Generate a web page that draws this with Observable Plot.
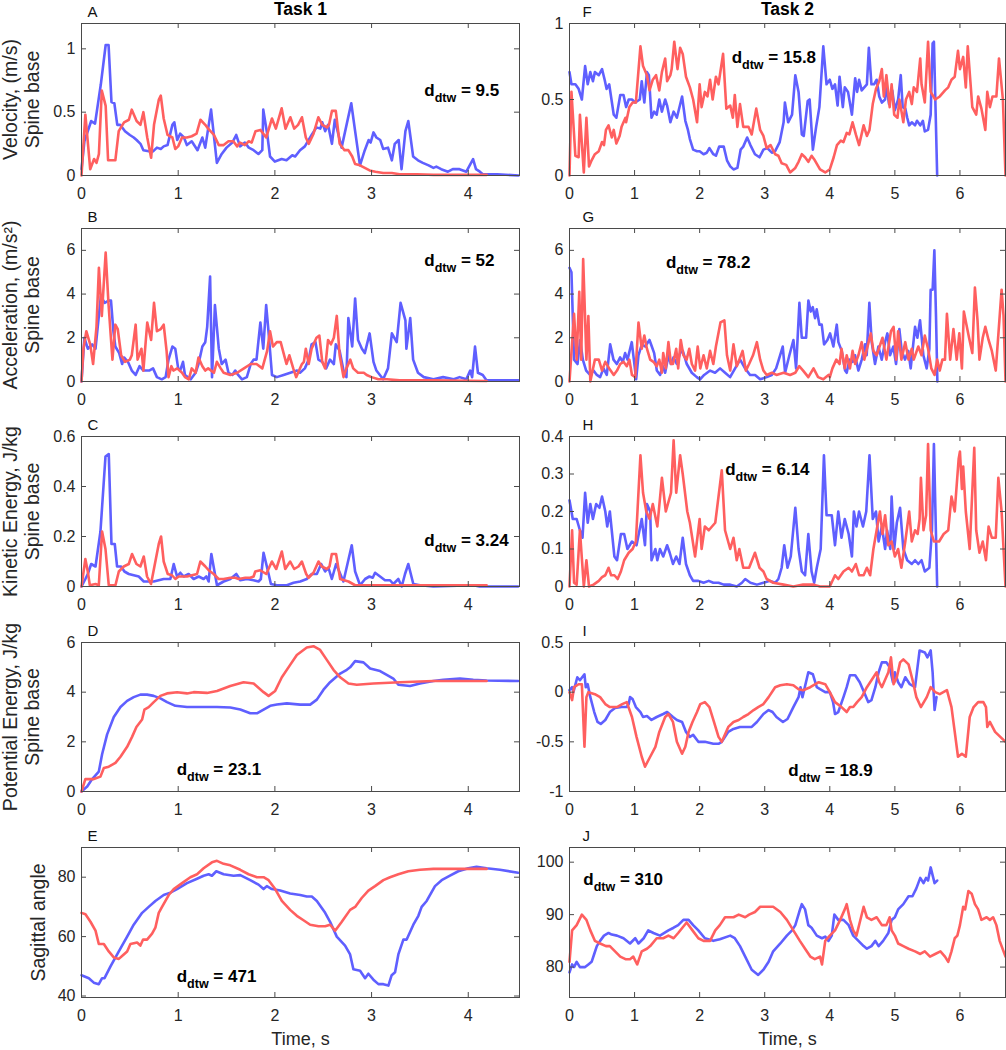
<!DOCTYPE html>
<html><head><meta charset="utf-8">
<script src="https://cdn.jsdelivr.net/npm/d3@7"></script>
<script src="https://cdn.jsdelivr.net/npm/@observablehq/plot@0.6"></script>
<style>
html,body{margin:0;padding:0;background:#fff;}
#wrap{position:relative;width:1006px;height:1050px;overflow:hidden;}
.cell{position:absolute;}
</style></head><body><div id="wrap"></div>
<script>
// ---------- tick labels ----------
const xTicksTask1 = [0, 1, 2, 3, 4];
const xTicksTask2 = [0, 1, 2, 3, 4, 5, 6];
const yTicksVel = [0, 0.5, 1];
const yTicksAcc = [0, 2, 4, 6];
const yTicksKE1 = [0, 0.2, 0.4, 0.6];
const yTicksKE2 = [0, 0.1, 0.2, 0.3, 0.4];
const yTicksPE1 = [0, 2, 4, 6];
const yTicksPE2 = [-1, -0.5, 0, 0.5];
const yTicksAng1 = [40, 60, 80];
const yTicksAng2 = [80, 90, 100];
const panelLetters = ["A", "B", "C", "D", "E", "F", "G", "H", "I", "J"];
const taskTitles = ["Task 1", "Task 2"];
const rowLabels = ["Velocity, (m/s)\nSpine base", "Acceleration, (m/s²)\nSpine base", "Kinetic Energy, J/kg\nSpine base", "Potential Energy, J/kg\nSpine base", "Sagittal angle"];
const xLabel = "Time, s";
const dtwValues = ["9.5", "52", "3.24", "23.1", "471", "15.8", "78.2", "6.14", "18.9", "310"];

// ---------- series: [time s, value] ----------
const velBlue1 = [[0,0.05],[0.03,0.27],[0.1,0.43],[0.14,0.41],[0.2,0.72],[0.25,1.03],[0.28,1.03],[0.31,0.58],[0.34,0.57],[0.37,0.4],[0.4,0.4],[0.45,0.35],[0.5,0.32],[0.54,0.3],[0.57,0.28],[0.61,0.25],[0.64,0.2],[0.71,0.19],[0.74,0.19],[0.78,0.22],[0.82,0.21],[0.85,0.23],[0.89,0.24],[0.94,0.4],[0.96,0.42],[0.99,0.28],[1.02,0.33],[1.06,0.3],[1.09,0.24],[1.14,0.27],[1.2,0.2],[1.25,0.3],[1.28,0.22],[1.34,0.52],[1.4,0.1],[1.45,0.17],[1.5,0.22],[1.56,0.26],[1.6,0.32],[1.64,0.23],[1.69,0.26],[1.73,0.22],[1.78,0.2],[1.83,0.17],[1.87,0.2],[1.88,0.52],[1.92,0.33],[1.95,0.15],[2.0,0.11],[2.07,0.13],[2.12,0.12],[2.18,0.16],[2.21,0.15],[2.26,0.2],[2.31,0.23],[2.38,0.32],[2.43,0.38],[2.47,0.37],[2.49,0.42],[2.52,0.35],[2.55,0.4],[2.59,0.25],[2.62,0.44],[2.69,0.22],[2.79,0.57],[2.83,0.35],[2.88,0.08],[2.93,0.2],[2.97,0.28],[2.99,0.26],[3.02,0.34],[3.05,0.3],[3.09,0.28],[3.12,0.21],[3.17,0.22],[3.21,0.12],[3.24,0.25],[3.28,0.28],[3.31,0.05],[3.35,0.35],[3.38,0.43],[3.43,0.15],[3.48,0.12],[3.53,0.1],[3.59,0.08],[3.64,0.06],[3.67,0.07],[3.72,0.05],[3.79,0.03],[3.84,0.05],[3.91,0.05],[3.98,0.03],[4.05,0.13],[4.08,0.05],[4.12,0.03],[4.15,0.01],[4.3,0.01],[4.52,0.0]];
const velRed1 = [[0,0],[0.04,0.48],[0.09,0.05],[0.13,0.13],[0.155,0.1],[0.18,0.17],[0.21,0.67],[0.25,0.55],[0.275,0.12],[0.35,0.12],[0.385,0.35],[0.44,0.42],[0.49,0.44],[0.52,0.52],[0.57,0.43],[0.61,0.4],[0.64,0.5],[0.68,0.3],[0.72,0.14],[0.75,0.4],[0.8,0.6],[0.82,0.63],[0.85,0.45],[0.89,0.32],[0.94,0.3],[0.97,0.21],[1.0,0.23],[1.04,0.3],[1.09,0.3],[1.14,0.31],[1.19,0.33],[1.23,0.44],[1.28,0.4],[1.31,0.37],[1.37,0.32],[1.42,0.24],[1.47,0.24],[1.52,0.27],[1.57,0.27],[1.61,0.23],[1.64,0.26],[1.69,0.24],[1.73,0.27],[1.76,0.26],[1.8,0.35],[1.85,0.36],[1.91,0.3],[1.97,0.45],[2.01,0.37],[2.07,0.53],[2.11,0.37],[2.16,0.46],[2.2,0.37],[2.24,0.4],[2.28,0.46],[2.32,0.3],[2.35,0.25],[2.4,0.33],[2.45,0.46],[2.49,0.4],[2.54,0.38],[2.56,0.4],[2.59,0.51],[2.63,0.51],[2.67,0.25],[2.72,0.2],[2.76,0.2],[2.8,0.15],[2.83,0.09],[2.88,0.08],[2.93,0.06],[2.98,0.04],[3.04,0.03],[3.12,0.02],[3.21,0.02],[3.29,0.01],[3.47,0.01],[3.64,0.005],[4.19,0.005]];
const velBlue2 = [[0,0.68],[0.03,0.6],[0.09,0.6],[0.14,0.57],[0.19,0.5],[0.24,0.72],[0.28,0.6],[0.32,0.68],[0.36,0.62],[0.39,0.68],[0.45,0.66],[0.5,0.7],[0.54,0.63],[0.57,0.57],[0.61,0.6],[0.68,0.4],[0.72,0.38],[0.78,0.53],[0.83,0.53],[0.87,0.45],[0.91,0.5],[0.96,0.5],[1.01,0.48],[1.08,0.5],[1.11,0.62],[1.15,0.48],[1.19,0.68],[1.22,0.66],[1.26,0.38],[1.3,0.42],[1.34,0.4],[1.38,0.5],[1.42,0.42],[1.47,0.5],[1.5,0.46],[1.55,0.35],[1.6,0.42],[1.65,0.38],[1.73,0.52],[1.78,0.36],[1.82,0.3],[1.85,0.24],[1.9,0.17],[1.96,0.16],[2.0,0.16],[2.06,0.14],[2.11,0.15],[2.15,0.18],[2.21,0.14],[2.25,0.13],[2.3,0.19],[2.37,0.19],[2.42,0.1],[2.47,0.06],[2.52,0.04],[2.58,0.05],[2.63,0.17],[2.67,0.19],[2.73,0.25],[2.78,0.2],[2.85,0.14],[2.92,0.12],[2.98,0.17],[3.04,0.18],[3.11,0.15],[3.16,0.16],[3.23,0.22],[3.29,0.35],[3.31,0.48],[3.36,0.35],[3.42,0.4],[3.47,0.66],[3.52,0.55],[3.57,0.27],[3.6,0.26],[3.66,0.49],[3.69,0.5],[3.74,0.17],[3.79,0.32],[3.84,0.45],[3.9,0.85],[3.95,0.6],[4.0,0.63],[4.04,0.57],[4.08,0.6],[4.12,0.46],[4.15,0.65],[4.2,0.45],[4.23,0.58],[4.28,0.55],[4.34,0.4],[4.39,0.64],[4.42,0.55],[4.45,0.63],[4.49,0.56],[4.53,0.58],[4.57,0.6],[4.6,0.84],[4.64,0.6],[4.68,0.6],[4.72,0.63],[4.76,0.52],[4.8,0.48],[4.85,0.5],[4.87,0.6],[4.91,0.47],[4.96,0.56],[5.0,0.43],[5.05,0.5],[5.09,0.66],[5.12,0.45],[5.16,0.44],[5.19,0.38],[5.22,0.33],[5.26,0.35],[5.31,0.33],[5.34,0.36],[5.39,0.33],[5.43,0.36],[5.46,0.29],[5.51,0.3],[5.55,0.4],[5.58,0.87],[5.6,0.88],[5.65,0.0]];
const velRed2 = [[0,0],[0.03,0.55],[0.09,0.13],[0.14,0.12],[0.16,0.4],[0.22,0.02],[0.26,0.38],[0.3,0.06],[0.34,0.1],[0.39,0.14],[0.45,0.16],[0.5,0.22],[0.53,0.2],[0.56,0.3],[0.6,0.33],[0.65,0.25],[0.68,0.3],[0.72,0.21],[0.77,0.26],[0.8,0.32],[0.86,0.38],[0.87,0.35],[0.92,0.45],[0.97,0.48],[1.02,0.48],[1.09,0.85],[1.13,0.72],[1.19,0.66],[1.23,0.56],[1.28,0.63],[1.33,0.66],[1.38,0.56],[1.42,0.68],[1.47,0.77],[1.5,0.62],[1.55,0.66],[1.57,0.7],[1.61,0.88],[1.66,0.7],[1.7,0.84],[1.74,0.8],[1.79,0.65],[1.85,0.58],[1.9,0.5],[1.96,0.35],[2.0,0.6],[2.03,0.45],[2.08,0.55],[2.12,0.52],[2.16,0.63],[2.2,0.5],[2.25,0.65],[2.29,0.6],[2.36,0.8],[2.41,0.44],[2.47,0.46],[2.51,0.38],[2.54,0.53],[2.58,0.32],[2.62,0.47],[2.67,0.32],[2.75,0.32],[2.8,0.27],[2.87,0.44],[2.93,0.3],[2.98,0.26],[3.03,0.18],[3.09,0.2],[3.16,0.14],[3.21,0.13],[3.26,0.08],[3.33,0.07],[3.39,0.02],[3.47,0.05],[3.52,0.09],[3.57,0.14],[3.62,0.12],[3.67,0.09],[3.72,0.13],[3.77,0.1],[3.85,0.04],[3.93,0.02],[4.0,0.04],[4.06,0.12],[4.11,0.2],[4.17,0.23],[4.21,0.22],[4.26,0.28],[4.3,0.27],[4.35,0.35],[4.4,0.27],[4.45,0.2],[4.52,0.33],[4.57,0.26],[4.61,0.3],[4.66,0.47],[4.71,0.57],[4.76,0.62],[4.8,0.7],[4.83,0.52],[4.87,0.66],[4.92,0.45],[4.95,0.6],[4.99,0.4],[5.04,0.38],[5.07,0.5],[5.13,0.35],[5.17,0.5],[5.22,0.55],[5.26,0.47],[5.29,0.58],[5.34,0.55],[5.39,0.77],[5.41,0.6],[5.46,0.48],[5.51,0.88],[5.55,0.55],[5.62,0.5],[5.69,0.52],[5.77,0.56],[5.82,0.58],[5.87,0.63],[5.92,0.65],[5.97,0.82],[6.0,0.7],[6.05,0.78],[6.09,0.58],[6.12,0.85],[6.19,0.45],[6.25,0.4],[6.28,0.52],[6.33,0.44],[6.39,0.3],[6.42,0.55],[6.46,0.45],[6.5,0.52],[6.56,0.52],[6.6,0.77],[6.66,0.5],[6.7,0.0]];

const accBlue1 = [[0,0],[0.03,2.0],[0.065,1.5],[0.11,1.7],[0.145,1.5],[0.2,3.9],[0.24,3.6],[0.28,3.7],[0.305,3.7],[0.33,2.3],[0.35,1.6],[0.39,1.3],[0.42,0.8],[0.44,1.1],[0.48,0.9],[0.52,0.5],[0.56,0.3],[0.6,0.7],[0.64,0.5],[0.7,0.5],[0.74,0.6],[0.78,0.2],[0.83,0.1],[0.87,0.2],[0.9,1.0],[0.94,1.6],[0.97,1.5],[1.0,0.6],[1.02,0.5],[1.05,0.9],[1.07,0.3],[1.13,0.1],[1.18,0.4],[1.21,0.8],[1.25,1.6],[1.28,1.8],[1.3,2.5],[1.33,4.8],[1.35,0.2],[1.38,3.5],[1.42,1.5],[1.45,0.8],[1.49,1.0],[1.52,0.4],[1.56,0.3],[1.59,0.5],[1.62,0.3],[1.66,0.1],[1.71,0.2],[1.75,0.8],[1.78,1.0],[1.81,1.0],[1.85,2.7],[1.88,1.5],[1.91,3.5],[1.93,2.5],[1.97,0.3],[2.02,0.2],[2.09,0.3],[2.16,0.4],[2.23,0.5],[2.26,0.4],[2.31,0.6],[2.35,1.0],[2.38,1.7],[2.42,1.8],[2.45,1.0],[2.49,0.9],[2.53,0.6],[2.57,1.0],[2.61,0.8],[2.63,1.7],[2.67,1.4],[2.71,0.5],[2.74,0.2],[2.76,2.9],[2.8,1.6],[2.83,3.8],[2.86,1.9],[2.9,1.5],[2.93,1.3],[2.98,2.2],[3.02,0.9],[3.05,0.5],[3.12,0.1],[3.17,0.6],[3.21,2.2],[3.26,1.8],[3.3,3.6],[3.35,2.8],[3.36,1.5],[3.4,2.9],[3.43,1.0],[3.48,0.4],[3.54,0.2],[3.64,0.1],[3.74,0.2],[3.85,0.1],[3.91,0.2],[3.98,0.1],[4.02,0.5],[4.04,0.2],[4.07,1.6],[4.1,0.4],[4.15,0.3],[4.19,0.05],[4.52,0.05]];
const accRed1 = [[0,0],[0.02,1.5],[0.05,2.3],[0.09,1.7],[0.12,0.8],[0.155,2.5],[0.18,5.2],[0.21,3.0],[0.25,5.9],[0.28,3.5],[0.32,1.0],[0.35,2.6],[0.375,2.4],[0.41,1.2],[0.45,0.9],[0.5,1.0],[0.52,1.2],[0.56,2.6],[0.58,1.0],[0.62,1.5],[0.64,0.5],[0.68,2.7],[0.72,1.9],[0.75,3.6],[0.78,2.3],[0.82,2.4],[0.85,2.6],[0.88,1.4],[0.9,0.2],[0.93,0.7],[0.95,0.5],[0.99,0.6],[1.04,0.4],[1.07,0.2],[1.11,0.1],[1.14,0.6],[1.18,0.4],[1.21,1.1],[1.25,0.7],[1.28,0.5],[1.31,0.6],[1.37,0.4],[1.4,0.9],[1.44,0.6],[1.47,0.4],[1.54,0.3],[1.61,0.4],[1.68,0.6],[1.75,0.8],[1.81,0.8],[1.87,0.6],[1.92,1.4],[1.95,2.3],[1.98,1.6],[2.02,1.8],[2.06,1.8],[2.09,1.3],[2.12,0.8],[2.15,1.2],[2.19,0.6],[2.22,0.2],[2.25,0.5],[2.28,0.8],[2.3,0.9],[2.32,1.5],[2.35,0.8],[2.38,1.5],[2.43,2.0],[2.46,2.1],[2.49,0.9],[2.52,0.6],[2.55,1.9],[2.58,1.7],[2.61,2.0],[2.64,3.0],[2.67,1.2],[2.71,0.2],[2.74,0.6],[2.78,1.0],[2.81,0.6],[2.86,0.4],[2.92,0.4],[2.95,0.3],[3.0,0.2],[3.07,0.1],[3.16,0.1],[3.29,0.05],[3.64,0.05],[4.19,0.02]];
const accBlue2 = [[0,5.2],[0.03,5.0],[0.07,1.0],[0.123,0.8],[0.164,1.9],[0.205,1.0],[0.256,0.5],[0.317,0.3],[0.369,0.5],[0.42,0.3],[0.471,0.2],[0.522,0.6],[0.573,0.3],[0.625,1.7],[0.676,1.0],[0.727,0.8],[0.778,1.1],[0.819,0.9],[0.855,1.3],[0.891,1.0],[0.957,1.8],[0.993,0.9],[1.024,0.1],[1.06,1.2],[1.111,1.7],[1.162,1.6],[1.229,1.9],[1.265,1.6],[1.301,1.3],[1.342,0.5],[1.393,0.3],[1.434,0.7],[1.47,0.4],[1.521,1.2],[1.557,0.8],[1.598,1.1],[1.649,0.8],[1.7,1.3],[1.741,1.4],[1.802,0.8],[1.879,0.4],[1.956,0.2],[2.007,0.1],[2.069,0.3],[2.161,0.5],[2.237,0.4],[2.314,0.6],[2.391,0.4],[2.468,0.2],[2.545,0.6],[2.622,1.0],[2.698,0.6],[2.775,0.3],[2.852,0.3],[2.929,0.1],[3.031,0.2],[3.108,0.3],[3.175,0.6],[3.236,1.2],[3.277,1.6],[3.313,0.4],[3.379,1.2],[3.441,1.9],[3.482,0.6],[3.533,3.6],[3.569,2.0],[3.636,2.0],[3.671,3.7],[3.707,3.2],[3.738,3.4],[3.774,2.9],[3.799,3.3],[3.84,2.6],[3.876,2.6],[3.912,1.7],[3.963,1.9],[4.004,2.2],[4.055,1.6],[4.107,2.6],[4.132,1.8],[4.183,1.4],[4.235,0.5],[4.26,0.4],[4.301,1.0],[4.352,0.9],[4.388,1.2],[4.439,0.5],[4.491,1.0],[4.542,1.7],[4.567,1.2],[4.608,3.6],[4.644,1.8],[4.695,0.8],[4.747,1.6],[4.798,1.0],[4.849,1.8],[4.885,2.2],[4.926,1.2],[4.977,1.6],[5.018,0.8],[5.069,2.4],[5.105,1.4],[5.156,1.0],[5.207,1.4],[5.243,0.6],[5.31,2.5],[5.346,2.0],[5.387,2.8],[5.438,1.2],[5.489,0.6],[5.53,1.5],[5.55,4.2],[5.58,4.2],[5.607,6.0],[5.632,3.0],[5.653,0]];
const accRed2 = [[0,0],[0.07,3.1],[0.11,1.0],[0.15,4.1],[0.18,1.0],[0.21,5.6],[0.26,1.0],[0.29,3.0],[0.32,0.0],[0.39,1.0],[0.45,1.0],[0.5,0.5],[0.55,0.9],[0.61,0.6],[0.68,0.3],[0.73,0.5],[0.78,0.8],[0.83,0.9],[0.88,0.7],[0.92,1.0],[0.96,0.3],[1.01,0.2],[1.03,1.2],[1.06,2.7],[1.11,1.5],[1.15,2.1],[1.19,1.5],[1.24,1.0],[1.29,0.9],[1.34,0.7],[1.38,1.0],[1.42,0.4],[1.44,1.3],[1.48,0.6],[1.52,1.8],[1.56,0.8],[1.59,0.8],[1.64,1.5],[1.67,0.6],[1.71,1.9],[1.75,1.2],[1.8,1.0],[1.84,1.5],[1.88,0.8],[1.93,0.5],[1.97,1.6],[2.01,0.6],[2.06,1.2],[2.11,0.6],[2.16,1.4],[2.21,0.8],[2.25,1.6],[2.32,2.7],[2.38,2.8],[2.42,1.2],[2.47,0.5],[2.52,1.7],[2.57,0.7],[2.61,1.0],[2.66,1.4],[2.71,0.5],[2.76,0.8],[2.82,1.2],[2.88,1.8],[2.93,1.0],[2.98,0.5],[3.03,0.3],[3.11,0.4],[3.18,0.3],[3.29,0.4],[3.39,0.3],[3.47,0.4],[3.53,0.7],[3.59,0.5],[3.67,0.2],[3.75,0.6],[3.82,0.2],[3.9,0.1],[3.98,0.3],[4.0,0.2],[4.04,0.6],[4.1,1.0],[4.15,0.8],[4.18,1.5],[4.23,0.6],[4.26,1.2],[4.31,0.6],[4.35,1.4],[4.39,0.8],[4.44,1.2],[4.49,1.8],[4.53,1.0],[4.63,2.2],[4.67,1.4],[4.72,1.2],[4.81,2.0],[4.87,1.0],[4.94,2.3],[4.98,2.5],[5.02,1.0],[5.05,2.3],[5.1,1.0],[5.16,1.8],[5.21,1.0],[5.26,1.5],[5.29,1.0],[5.36,1.6],[5.41,1.2],[5.46,2.1],[5.51,1.5],[5.56,0.6],[5.61,0.3],[5.65,1.0],[5.69,0.5],[5.73,1.0],[5.77,1.0],[5.8,3.1],[5.85,1.0],[5.9,2.4],[5.95,1.0],[5.99,2.2],[6.03,0.6],[6.06,3.2],[6.1,2.6],[6.14,2.0],[6.19,1.3],[6.23,4.3],[6.27,2.8],[6.3,1.0],[6.35,2.0],[6.39,2.5],[6.44,1.9],[6.49,1.4],[6.55,0.5],[6.64,4.2],[6.67,3.0],[6.7,0.0]];

const keBlue1 = [[0,0],[0.04,0.03],[0.065,0.05],[0.1,0.09],[0.145,0.08],[0.196,0.22],[0.248,0.52],[0.282,0.53],[0.31,0.17],[0.344,0.17],[0.368,0.08],[0.41,0.08],[0.444,0.06],[0.489,0.05],[0.54,0.045],[0.592,0.04],[0.644,0.02],[0.747,0.02],[0.85,0.03],[0.919,0.03],[0.954,0.09],[0.988,0.04],[1.022,0.055],[1.057,0.04],[1.108,0.05],[1.16,0.03],[1.212,0.04],[1.263,0.03],[1.291,0.04],[1.315,0.02],[1.343,0.13],[1.401,0.005],[1.47,0.02],[1.539,0.03],[1.601,0.05],[1.642,0.025],[1.711,0.03],[1.78,0.025],[1.831,0.02],[1.855,0.03],[1.883,0.135],[1.917,0.08],[1.959,0.01],[2.021,0.005],[2.124,0.005],[2.193,0.015],[2.262,0.02],[2.33,0.03],[2.382,0.05],[2.434,0.05],[2.479,0.09],[2.52,0.06],[2.554,0.075],[2.589,0.03],[2.633,0.09],[2.709,0.02],[2.795,0.165],[2.83,0.06],[2.881,0.005],[2.933,0.03],[2.978,0.04],[3.012,0.035],[3.036,0.055],[3.088,0.04],[3.139,0.025],[3.191,0.025],[3.225,0.01],[3.277,0.03],[3.312,0.0],[3.346,0.05],[3.38,0.09],[3.432,0.01],[3.501,0.005],[3.639,0],[4.052,0.005],[4.117,0],[4.516,0]];
const keRed1 = [[0,0],[0.04,0.11],[0.065,0.06],[0.086,0.005],[0.145,0.01],[0.179,0.005],[0.213,0.22],[0.248,0.15],[0.282,0.005],[0.351,0.005],[0.386,0.06],[0.437,0.08],[0.489,0.09],[0.523,0.13],[0.568,0.09],[0.609,0.08],[0.644,0.12],[0.678,0.04],[0.719,0.01],[0.754,0.08],[0.799,0.17],[0.823,0.2],[0.85,0.1],[0.892,0.05],[0.936,0.045],[0.971,0.03],[1.005,0.04],[1.04,0.04],[1.091,0.04],[1.143,0.045],[1.195,0.05],[1.229,0.1],[1.281,0.08],[1.315,0.065],[1.367,0.05],[1.418,0.03],[1.47,0.03],[1.539,0.035],[1.59,0.035],[1.625,0.03],[1.694,0.035],[1.745,0.035],[1.78,0.04],[1.797,0.06],[1.849,0.065],[1.911,0.05],[1.969,0.1],[2.014,0.07],[2.072,0.14],[2.107,0.07],[2.158,0.1],[2.2,0.07],[2.244,0.08],[2.279,0.1],[2.324,0.05],[2.348,0.035],[2.399,0.055],[2.451,0.1],[2.485,0.08],[2.537,0.07],[2.565,0.08],[2.589,0.13],[2.633,0.13],[2.675,0.03],[2.761,0.02],[2.83,0.005],[4.19,0.005]];
const keBlue2 = [[0,0.23],[0.05,0.18],[0.11,0.18],[0.16,0.15],[0.2,0.13],[0.24,0.25],[0.28,0.17],[0.32,0.22],[0.36,0.18],[0.41,0.22],[0.46,0.21],[0.5,0.24],[0.55,0.2],[0.58,0.16],[0.62,0.2],[0.69,0.08],[0.73,0.07],[0.79,0.14],[0.84,0.14],[0.89,0.1],[0.96,0.12],[1.03,0.11],[1.11,0.18],[1.16,0.11],[1.19,0.22],[1.24,0.2],[1.26,0.07],[1.32,0.1],[1.35,0.07],[1.39,0.1],[1.44,0.08],[1.5,0.11],[1.54,0.09],[1.59,0.06],[1.64,0.08],[1.69,0.06],[1.74,0.13],[1.79,0.06],[1.85,0.03],[1.9,0.015],[1.98,0.015],[2.06,0.01],[2.14,0.015],[2.21,0.01],[2.29,0.01],[2.37,0.005],[2.47,0.005],[2.57,0],[2.65,0.01],[2.7,0.02],[2.78,0.01],[2.88,0.005],[2.98,0.01],[3.08,0.015],[3.16,0.01],[3.21,0.02],[3.26,0.05],[3.3,0.11],[3.35,0.05],[3.4,0.08],[3.47,0.21],[3.52,0.1],[3.57,0.04],[3.62,0.03],[3.67,0.14],[3.72,0.04],[3.76,0.01],[3.8,0.05],[3.86,0.1],[3.91,0.35],[3.95,0.19],[4.03,0.19],[4.08,0.11],[4.13,0.2],[4.18,0.13],[4.23,0.18],[4.29,0.14],[4.34,0.08],[4.37,0.2],[4.41,0.16],[4.45,0.2],[4.51,0.16],[4.56,0.2],[4.61,0.35],[4.66,0.18],[4.71,0.2],[4.75,0.12],[4.8,0.16],[4.85,0.1],[4.88,0.15],[4.93,0.1],[4.95,0.24],[4.99,0.1],[5.03,0.17],[5.08,0.21],[5.13,0.1],[5.19,0.07],[5.26,0.06],[5.31,0.07],[5.36,0.06],[5.41,0.07],[5.46,0.04],[5.53,0.05],[5.57,0.15],[5.6,0.38],[5.63,0.15],[5.65,0]];
const keRed2 = [[0,0],[0.04,0.15],[0.07,0.01],[0.11,0.005],[0.16,0.15],[0.22,0],[0.26,0.07],[0.3,0],[0.37,0.005],[0.45,0.015],[0.5,0.025],[0.55,0.03],[0.6,0.05],[0.64,0.03],[0.69,0.03],[0.74,0.02],[0.79,0.04],[0.84,0.07],[0.91,0.09],[0.97,0.1],[1.02,0.12],[1.09,0.35],[1.13,0.25],[1.18,0.2],[1.23,0.18],[1.28,0.22],[1.35,0.16],[1.42,0.29],[1.48,0.2],[1.56,0.25],[1.6,0.39],[1.64,0.25],[1.7,0.35],[1.74,0.3],[1.81,0.2],[1.85,0.17],[1.93,0.08],[2.0,0.18],[2.03,0.1],[2.08,0.16],[2.14,0.15],[2.24,0.17],[2.34,0.31],[2.39,0.15],[2.47,0.1],[2.52,0.13],[2.57,0.07],[2.61,0.1],[2.67,0.05],[2.76,0.05],[2.85,0.09],[2.92,0.05],[2.98,0.04],[3.03,0.02],[3.13,0.01],[3.29,0.005],[3.44,0],[3.59,0.005],[3.75,0.005],[3.85,0],[4.0,0],[4.08,0.03],[4.13,0.02],[4.21,0.04],[4.29,0.05],[4.34,0.04],[4.4,0.06],[4.45,0.03],[4.52,0.03],[4.57,0.05],[4.62,0.03],[4.67,0.1],[4.72,0.15],[4.77,0.2],[4.81,0.14],[4.85,0.19],[4.9,0.11],[4.95,0.12],[5.0,0.08],[5.05,0.1],[5.1,0.05],[5.16,0.12],[5.22,0.2],[5.26,0.12],[5.31,0.15],[5.35,0.14],[5.38,0.18],[5.4,0.29],[5.44,0.15],[5.48,0.19],[5.51,0.38],[5.55,0.15],[5.6,0.12],[5.68,0.12],[5.75,0.14],[5.82,0.15],[5.87,0.24],[5.92,0.2],[5.98,0.34],[6.0,0.36],[6.03,0.26],[6.05,0.32],[6.09,0.2],[6.15,0.1],[6.22,0.37],[6.25,0.15],[6.3,0.09],[6.35,0.12],[6.4,0.07],[6.44,0.16],[6.49,0.13],[6.55,0.13],[6.59,0.29],[6.64,0.2],[6.7,0]];

const peBlue1 = [[0,0],[0.059,0.2],[0.11,0.5],[0.179,0.8],[0.213,1.5],[0.265,2.3],[0.334,3.0],[0.403,3.4],[0.472,3.65],[0.54,3.8],[0.609,3.9],[0.678,3.9],[0.747,3.85],[0.816,3.75],[0.885,3.6],[0.971,3.45],[1.091,3.4],[1.229,3.4],[1.401,3.4],[1.539,3.38],[1.642,3.3],[1.745,3.15],[1.814,3.15],[1.883,3.3],[1.952,3.45],[2.021,3.5],[2.124,3.55],[2.262,3.5],[2.365,3.5],[2.434,3.7],[2.503,4.1],[2.571,4.4],[2.675,4.75],[2.744,4.9],[2.778,5.0],[2.83,5.25],[2.916,5.2],[2.985,4.95],[3.088,4.85],[3.157,4.7],[3.225,4.55],[3.277,4.3],[3.398,4.25],[3.501,4.35],[3.639,4.45],[3.742,4.5],[3.914,4.55],[4.052,4.5],[4.19,4.47],[4.516,4.45]];
const peRed1 = [[0,0],[0.04,0.5],[0.127,0.5],[0.196,0.6],[0.231,0.95],[0.282,1.0],[0.351,1.15],[0.403,1.4],[0.472,1.8],[0.523,2.2],[0.568,2.6],[0.627,2.9],[0.651,3.3],[0.695,3.4],[0.747,3.6],[0.816,3.85],[0.885,3.95],[0.988,4.0],[1.091,3.95],[1.16,4.0],[1.298,3.97],[1.401,4.05],[1.539,4.25],[1.676,4.4],[1.78,4.35],[1.883,4.0],[1.935,3.85],[2.003,4.05],[2.072,4.6],[2.158,5.1],[2.227,5.5],[2.33,5.8],[2.399,5.85],[2.468,5.7],[2.537,5.3],[2.606,4.9],[2.675,4.6],[2.761,4.35],[2.847,4.3],[3.019,4.35],[3.294,4.4],[3.639,4.45],[4.19,4.45]];
const peBlue2 = [[0,0.02],[0.04,0.05],[0.06,0.0],[0.12,0.15],[0.16,0.12],[0.23,0.18],[0.25,0.05],[0.28,0.08],[0.32,-0.05],[0.38,-0.2],[0.43,-0.3],[0.48,-0.32],[0.55,-0.28],[0.62,-0.2],[0.7,-0.16],[0.8,-0.15],[0.88,-0.15],[0.91,-0.12],[0.93,-0.05],[0.97,-0.07],[1.02,-0.15],[1.09,-0.2],[1.13,-0.25],[1.19,-0.24],[1.26,-0.28],[1.34,-0.25],[1.44,-0.22],[1.5,-0.2],[1.59,-0.25],[1.65,-0.28],[1.73,-0.3],[1.79,-0.4],[1.85,-0.45],[1.9,-0.43],[1.98,-0.5],[2.08,-0.5],[2.21,-0.52],[2.29,-0.52],[2.34,-0.5],[2.44,-0.4],[2.52,-0.37],[2.62,-0.35],[2.8,-0.35],[2.88,-0.3],[2.98,-0.22],[3.06,-0.18],[3.12,-0.2],[3.18,-0.25],[3.28,-0.3],[3.35,-0.27],[3.44,-0.15],[3.52,-0.05],[3.55,0.05],[3.58,-0.05],[3.67,0.2],[3.74,0.18],[3.8,0.05],[3.85,0.03],[3.93,0.0],[4.0,0.0],[4.05,-0.1],[4.08,-0.22],[4.13,-0.2],[4.21,-0.05],[4.26,0.05],[4.31,0.17],[4.39,0.17],[4.46,0.1],[4.54,-0.02],[4.59,-0.1],[4.64,-0.08],[4.7,0.05],[4.75,0.2],[4.8,0.3],[4.87,0.3],[4.92,0.25],[4.97,0.1],[5.0,0.2],[5.05,0.1],[5.1,0.05],[5.16,0.15],[5.23,0.08],[5.31,0.05],[5.38,0.42],[5.46,0.4],[5.5,0.35],[5.55,0.42],[5.58,0.2],[5.61,-0.18],[5.64,-0.05]];
const peRed2 = [[0,0],[0.04,-0.08],[0.07,0.05],[0.14,0.08],[0.19,0.08],[0.23,-0.55],[0.26,-0.05],[0.29,0.0],[0.39,-0.02],[0.47,-0.05],[0.55,-0.12],[0.62,-0.15],[0.73,-0.15],[0.81,-0.12],[0.88,-0.1],[0.96,-0.25],[1.03,-0.45],[1.11,-0.65],[1.16,-0.75],[1.24,-0.65],[1.32,-0.55],[1.38,-0.4],[1.47,-0.25],[1.52,-0.22],[1.59,-0.3],[1.65,-0.5],[1.73,-0.62],[1.78,-0.55],[1.83,-0.4],[1.89,-0.3],[1.96,-0.2],[2.01,-0.12],[2.08,-0.1],[2.15,-0.15],[2.22,-0.3],[2.29,-0.45],[2.34,-0.5],[2.44,-0.35],[2.52,-0.3],[2.6,-0.28],[2.67,-0.25],[2.75,-0.22],[2.83,-0.18],[2.9,-0.15],[2.98,-0.12],[3.06,-0.05],[3.16,0.05],[3.24,0.07],[3.34,0.08],[3.44,0.07],[3.52,0.03],[3.59,0.02],[3.7,0.05],[3.83,0.1],[3.93,0.08],[4.0,0.0],[4.08,-0.1],[4.18,-0.15],[4.26,-0.2],[4.31,-0.15],[4.36,-0.15],[4.42,-0.1],[4.49,-0.05],[4.57,0.05],[4.64,0.12],[4.72,0.2],[4.76,0.1],[4.8,0.05],[4.9,0.2],[4.94,0.35],[4.98,0.08],[5.03,0.15],[5.08,0.3],[5.13,0.33],[5.21,0.28],[5.28,0.1],[5.33,-0.05],[5.4,-0.15],[5.49,-0.05],[5.55,0.05],[5.62,0.0],[5.69,-0.02],[5.8,0.02],[5.87,-0.15],[5.92,-0.4],[5.97,-0.65],[6.03,-0.62],[6.09,-0.65],[6.15,-0.25],[6.21,-0.15],[6.28,-0.1],[6.36,-0.1],[6.4,-0.15],[6.42,-0.35],[6.46,-0.3],[6.54,-0.4],[6.62,-0.45],[6.7,-0.5]];

const angBlue1 = [[0,47],[0.076,46],[0.127,44.5],[0.179,44],[0.213,46],[0.238,46],[0.3,50],[0.386,55],[0.472,60],[0.54,64],[0.627,68],[0.695,70],[0.764,72],[0.85,74],[0.919,74.8],[0.988,76],[1.091,78],[1.195,79.5],[1.263,80.5],[1.315,81],[1.349,80.5],[1.394,82],[1.47,81],[1.573,80.5],[1.642,80.7],[1.745,79],[1.831,77.5],[1.883,76],[1.917,77],[1.969,76],[2.055,75.5],[2.158,74.5],[2.262,74],[2.33,73.5],[2.382,73.5],[2.434,72],[2.52,68],[2.571,65],[2.64,60],[2.726,57],[2.778,54],[2.812,49],[2.881,48.5],[2.933,46],[2.967,47.5],[3.019,45.5],[3.071,44],[3.122,44],[3.174,43.5],[3.208,47],[3.243,48],[3.277,54],[3.329,59],[3.363,59],[3.432,64],[3.484,67],[3.518,70],[3.57,72],[3.621,75],[3.656,77],[3.725,79],[3.811,80.5],[3.897,82],[4.0,83],[4.086,83.5],[4.19,83],[4.327,82.5],[4.516,81.5]];
const angRed1 = [[0,68],[0.041,67.5],[0.093,65],[0.145,62],[0.179,57.5],[0.231,57.5],[0.282,55],[0.334,53],[0.386,52.5],[0.437,54],[0.472,55],[0.506,57.5],[0.575,58],[0.609,57],[0.637,59],[0.678,59],[0.73,61],[0.764,63],[0.799,68],[0.833,70],[0.902,74],[0.954,76],[1.04,78],[1.126,80],[1.195,81],[1.263,83],[1.349,85],[1.401,85.5],[1.47,84.5],[1.539,84],[1.642,82.5],[1.728,81],[1.814,80],[1.883,80],[1.935,79],[2.003,76],[2.072,72],[2.158,69],[2.227,67],[2.296,65.5],[2.365,64],[2.451,63.5],[2.52,63.5],[2.571,64],[2.623,62],[2.692,65],[2.778,69],[2.83,70],[2.898,73],[2.967,75.5],[3.036,77],[3.122,79],[3.191,80],[3.277,81],[3.38,82],[3.501,82.5],[3.639,82.8],[3.983,82.8],[4.19,82.8]];
const angBlue2 = [[0,79],[0.04,80.5],[0.07,80],[0.11,81],[0.16,80],[0.24,80],[0.29,80.5],[0.34,81],[0.38,82.5],[0.42,84],[0.47,85],[0.53,86],[0.6,86.5],[0.65,86.2],[0.73,86],[0.83,85.5],[0.93,84.5],[1.01,85.5],[1.06,84.5],[1.14,85.5],[1.21,87],[1.29,86.5],[1.39,86],[1.52,87],[1.6,87.5],[1.67,88],[1.75,89],[1.83,89],[1.9,88],[1.98,87],[2.08,85.5],[2.21,85],[2.31,85.3],[2.47,86],[2.54,85.5],[2.62,84],[2.7,82],[2.8,79.5],[2.9,78.5],[2.98,79.5],[3.06,81],[3.13,83],[3.24,84.5],[3.34,86],[3.42,87],[3.47,88],[3.53,90.5],[3.57,92],[3.62,91],[3.67,88],[3.72,87.5],[3.8,86],[3.88,85.5],[3.93,85.8],[3.98,85],[4.03,86],[4.07,90],[4.13,89],[4.21,89],[4.29,88],[4.36,86],[4.44,85],[4.52,84],[4.57,83.5],[4.64,84],[4.7,85],[4.75,84],[4.82,85],[4.9,86.5],[4.95,89],[5.0,89.5],[5.05,91],[5.13,92],[5.21,93.5],[5.27,93.5],[5.33,95],[5.39,97],[5.44,96],[5.48,97],[5.51,96.5],[5.55,99],[5.59,97],[5.61,96],[5.65,96.5]];
const angRed2 = [[0,81],[0.04,87],[0.11,88],[0.19,90],[0.26,89],[0.32,87],[0.39,85],[0.47,84.5],[0.56,84],[0.62,84],[0.7,83],[0.78,82],[0.86,81.5],[0.93,81.5],[0.98,82],[1.04,80.5],[1.11,83],[1.19,83.5],[1.24,84],[1.34,85.5],[1.44,85.5],[1.52,86],[1.6,85.5],[1.67,86.5],[1.8,88.5],[1.89,87],[1.98,85.5],[2.06,85],[2.16,85],[2.24,87],[2.31,88],[2.39,89.5],[2.52,89.5],[2.6,90],[2.7,89.5],[2.76,90],[2.85,90.5],[2.93,91.5],[3.03,91.5],[3.13,91.5],[3.24,90.5],[3.34,89],[3.44,87],[3.54,85],[3.62,83.5],[3.7,82],[3.77,81.5],[3.85,82],[3.88,80.5],[3.93,85],[4.0,86],[4.08,87],[4.16,89],[4.23,91],[4.26,92],[4.31,89],[4.36,87],[4.41,86],[4.46,88.5],[4.52,91.5],[4.57,89.5],[4.64,89],[4.72,89.5],[4.8,88],[4.87,88],[4.92,89.5],[4.95,87],[5.0,86],[5.05,84.5],[5.13,84],[5.21,83.5],[5.31,83],[5.39,82.5],[5.46,83],[5.54,82],[5.62,82.5],[5.7,83],[5.77,82],[5.82,81],[5.87,83],[5.92,85.5],[5.96,86],[6.0,88],[6.05,91.5],[6.08,91],[6.13,94.5],[6.18,94],[6.23,92],[6.28,91],[6.33,89],[6.41,89.5],[6.46,89],[6.51,89.5],[6.56,88],[6.61,85],[6.7,82]];

// ---------- layout & style ----------
const FONT = '"Liberation Sans", Arial, Helvetica, sans-serif';
const BLUE = "#5f5fff", RED = "#ff5f5f", INK = "#262626", BOX = "#4a4a4a";
const COLS = [
  {left: 0, width: 525, frameL: 81, frameR: 519, xDomain: [0, 4.53], xTicks: xTicksTask1, letterDx: 6},
  {left: 528, width: 478, frameL: 569, frameR: 1005, xDomain: [0, 6.7], xTicks: xTicksTask2, letterDx: 13}
];
const ROWS = [{top: 23, bottom: 175}, {top: 228, bottom: 381}, {top: 436, bottom: 586}, {top: 642, bottom: 791}, {top: 847, bottom: 997}];

const panels = [
  {row: 0, col: 0, blue: velBlue1, red: velRed1, yDomain: [0, 1.2], yTicks: yTicksVel, noteAt: [3.55, 0.62]},
  {row: 1, col: 0, blue: accBlue1, red: accRed1, yDomain: [0, 7], yTicks: yTicksAcc, noteAt: [3.55, 5.28]},
  {row: 2, col: 0, blue: keBlue1, red: keRed1, yDomain: [0, 0.6], yTicks: yTicksKE1, noteAt: [3.55, 0.16]},
  {row: 3, col: 0, blue: peBlue1, red: peRed1, yDomain: [0, 6], yTicks: yTicksPE1, noteAt: [0.99, 0.63]},
  {row: 4, col: 0, blue: angBlue1, red: angRed1, yDomain: [39.5, 90], yTicks: yTicksAng1, noteAt: [0.99, 44.6]},
  {row: 0, col: 1, blue: velBlue2, red: velRed2, yDomain: [0, 1], yTicks: yTicksVel, noteAt: [2.5, 0.74]},
  {row: 1, col: 1, blue: accBlue2, red: accRed2, yDomain: [0, 7], yTicks: yTicksAcc, noteAt: [1.49, 5.17]},
  {row: 2, col: 1, blue: keBlue2, red: keRed2, yDomain: [0, 0.4], yTicks: yTicksKE2, noteAt: [2.4, 0.296]},
  {row: 3, col: 1, blue: peBlue2, red: peRed2, yDomain: [-1, 0.5], yTicks: yTicksPE2, noteAt: [3.37, -0.85]},
  {row: 4, col: 1, blue: angBlue2, red: angRed2, yDomain: [74.2, 102.8], yTicks: yTicksAng2, noteAt: [0.22, 95.6]}
];

const wrap = document.getElementById("wrap");
panels.forEach((p, i) => {
  const c = COLS[p.col], r = ROWS[p.row];
  const mT = 22, mB = p.row === 4 ? 53 : 30;
  const mL = c.frameL - c.left, mR = c.width - (c.frameR - c.left);
  const frameW = c.frameR - c.frameL, frameH = r.bottom - r.top;
  const height = frameH + mT + mB;
  const xy = {x: d => d[0], y: d => d[1]};
  const marks = [
    Plot.line(p.blue, {...xy, stroke: BLUE, strokeWidth: 2.6}),
    Plot.line(p.red, {...xy, stroke: RED, strokeWidth: 2.6}),
    Plot.frame({stroke: BOX, strokeWidth: 1}),
    Plot.tickX(c.xTicks, {x: d => d, stroke: BOX, insetTop: frameH - 5}),
    Plot.tickX(c.xTicks, {x: d => d, stroke: BOX, insetBottom: frameH - 5}),
    Plot.tickY(p.yTicks, {y: d => d, stroke: BOX, insetRight: frameW - 5}),
    Plot.tickY(p.yTicks, {y: d => d, stroke: BOX, insetLeft: frameW - 5}),
    Plot.axisX({ticks: c.xTicks, tickSize: 0, tickPadding: 12, tickFormat: d => String(d), fontSize: 16, color: INK, label: null}),
    Plot.axisY({ticks: p.yTicks, tickSize: 0, tickPadding: 6, tickFormat: d => String(d), fontSize: 16, color: INK, label: null}),
    Plot.text([panelLetters[i]], {text: d => d, frameAnchor: "top-left", dx: c.letterDx, dy: -7, lineAnchor: "bottom", textAnchor: "start", fontSize: 15, fill: "#111"})
  ];
  if (p.row === 0) {
    marks.push(Plot.text([taskTitles[p.col]], {text: d => d, frameAnchor: "top", dy: -9, lineAnchor: "bottom", fontSize: 17.5, fontWeight: "bold", fill: "#000"}));
  }
  if (p.col === 0) {
    const two = rowLabels[p.row].includes("\n");
    marks.push(Plot.text([rowLabels[p.row]], {text: d => d, frameAnchor: "left", dx: two ? -60.5 : -44, rotate: -90, lineAnchor: "middle", textAnchor: "middle", lineHeight: 1.15, fontSize: 19.5, fill: INK}));
  }
  if (p.row === 4) {
    marks.push(Plot.text([xLabel], {text: d => d, frameAnchor: "bottom", dy: 35, lineAnchor: "top", fontSize: 18, fill: INK}));
  }
  const chart = Plot.plot({
    width: c.width, height,
    marginLeft: mL, marginRight: mR, marginTop: mT, marginBottom: mB,
    x: {domain: c.xDomain},
    y: {domain: p.yDomain},
    style: {fontFamily: FONT, fontSize: "16px", background: "transparent", overflow: "visible", color: INK},
    marks
  });
  const sx = chart.scale("x"), sy = chart.scale("y");
  const t = d3.select(chart).append("text")
    .attr("x", sx.apply(p.noteAt[0])).attr("y", sy.apply(p.noteAt[1]))
    .attr("text-anchor", "start")
    .attr("font-family", FONT).attr("font-weight", "bold").attr("font-size", 17).attr("fill", "#000");
  t.append("tspan").text("d");
  t.append("tspan").attr("dy", 6).attr("font-size", 12.5).text("dtw");
  t.append("tspan").attr("dy", -6).text(" = " + dtwValues[i]);
  const div = document.createElement("div");
  div.className = "cell";
  div.style.left = c.left + "px";
  div.style.top = (r.top - mT) + "px";
  div.appendChild(chart);
  wrap.appendChild(div);
});
</script></body></html>
